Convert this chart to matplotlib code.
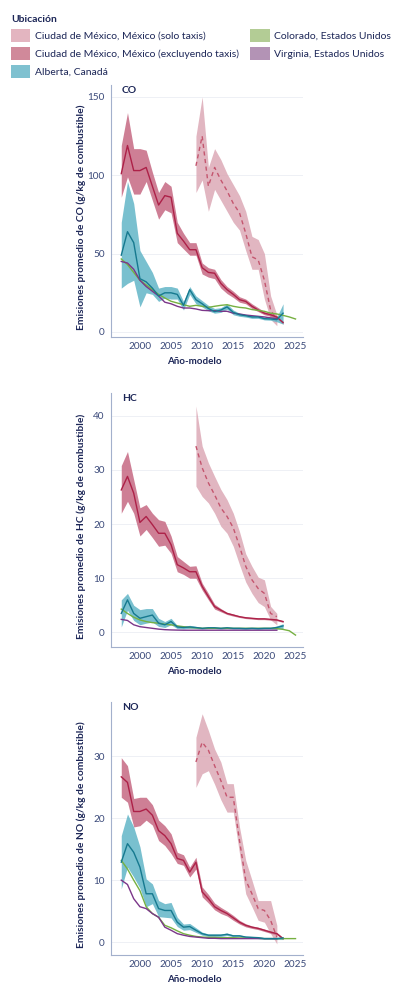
import matplotlib
matplotlib.use("Agg")
from matplotlib import pyplot as plt
from matplotlib.patches import Patch

plt.rcParams["font.family"] = ["Lato", "DejaVu Sans"]

# years
years_main = list(range(1997, 2024))     # CDMX (sin taxis), Alberta
years_taxi = list(range(2009, 2023))     # CDMX taxis
years_colorado = list(range(1997, 2026))
years_virginia = list(range(1997, 2023))

# ---- CO ----
co_cdmx = [101, 119, 103, 103, 105, 93, 81, 87, 86, 63, 58, 52.5, 52.5, 41, 38, 37.5,
           31, 27, 24, 20.6, 19.5, 16.4, 14, 12, 11, 9.5, 6]
co_cdmx_lo = [86, 99, 88, 88, 96, 84, 72, 78, 76, 57, 53, 49, 49, 37, 35, 34,
              28, 24.5, 22, 19, 18, 15, 13, 11, 10, 8.5, 5]
co_cdmx_hi = [119, 140, 117, 117, 116, 102, 89, 96, 93, 70, 63, 57, 57, 44, 41, 40,
              33.5, 29, 26, 22.5, 21, 18, 15.5, 13, 12, 10.5, 7]
co_taxi = [106, 125, 93, 105, 97, 90, 82, 76, 63, 48, 46, 33, 14, 8]
co_taxi_lo = [89, 97, 77, 91, 84, 77, 70, 65, 52, 40, 40, 21, 8, 4]
co_taxi_hi = [125, 150, 105, 117, 110, 101, 94, 87, 77, 61, 59, 50, 23, 11]
co_alberta = [49, 64, 57, 34, 32, 28, 23, 25, 25, 24, 17, 27, 20.6, 18, 15, 13,
              14, 16, 12.5, 11, 10.4, 9.6, 9.6, 8.5, 8.3, 7.9, 12]
co_alberta_lo = [28, 31, 33, 16, 25, 24, 19.5, 21.7, 21, 21, 14, 24, 18, 16, 13.5, 12,
                 12.5, 14.5, 11, 10, 9.5, 8.7, 8.7, 7.7, 7.5, 6.5, 5]
co_alberta_hi = [70, 96, 82, 52, 45, 38, 28, 29, 29, 28, 19.5, 29, 23, 20, 17, 15,
                 15.5, 18, 14, 12, 11.3, 10.5, 10.5, 9.5, 9.3, 9.5, 18]
co_colorado = [46.6, 43, 38, 33, 30, 27, 24, 21.7, 19.6, 18.5, 17.4, 16.4, 17, 16.4, 15.7,
               16.4, 17, 17.4, 16.4, 15.7, 15.3, 14.3, 13.8, 13.2, 12, 11.5, 10.6, 9.6, 8.3]
co_virginia = [45, 44, 40, 33, 29, 26, 23, 19, 18, 16.4, 15.3, 15.3, 14.7, 13.8, 13.6,
               13.6, 13.2, 13.2, 12, 11.5, 10.8, 10.4, 10, 9.6, 9, 8.5]

# ---- HC ----
hc_cdmx = [26.3, 28.8, 25.7, 20.3, 21.4, 19.9, 18.3, 18.3, 16.2, 12.5, 11.9, 11.2, 11.2,
           8.5, 6.6, 4.75, 4.1, 3.5, 3.2, 2.9, 2.7, 2.6, 2.5, 2.5, 2.4, 2.3, 2.0]
hc_cdmx_lo = [22, 24.2, 22, 17.8, 19, 17.5, 15.9, 16.1, 14.6, 11.2, 10.7, 10, 10,
              7.8, 6, 4.3, 3.8, 3.3, 3.0, 2.75, 2.55, 2.45, 2.35, 2.35, 2.25, 2.15, 1.85]
hc_cdmx_hi = [30.8, 33.4, 28.2, 23, 23.6, 22, 20.8, 20.5, 17.8, 14, 13.1, 12.2, 12.3,
              9.1, 7.2, 5.2, 4.4, 3.7, 3.4, 3.05, 2.85, 2.75, 2.65, 2.65, 2.55, 2.45, 2.15]
hc_taxi = [34.4, 30.4, 27.6, 25.4, 23, 21.4, 19.3, 15.9, 12.2, 9.7, 8.1, 7.2, 3.5, 2.9]
hc_taxi_lo = [27, 25.1, 23.9, 22, 19.6, 18.3, 15.9, 12.5, 9.3, 7.2, 5.5, 4.75, 2.3, 1.4]
hc_taxi_hi = [41.8, 34.4, 31.3, 28.8, 26.4, 24.5, 22, 18.6, 14.5, 12.2, 10.2, 9.7, 4.8, 3.5]
hc_alberta = [3.5, 6, 3.5, 2.6, 2.9, 3.2, 1.7, 1.4, 2, 1, 0.9, 1, 0.9, 0.75, 0.85, 0.85,
              0.75, 0.85, 0.75, 0.75, 0.7, 0.75, 0.7, 0.75, 0.75, 0.9, 1.2]
hc_alberta_lo = [1, 4.1, 2.2, 1.4, 1.7, 1.9, 1.1, 0.9, 1.4, 0.7, 0.65, 0.75, 0.7, 0.6, 0.7,
                 0.7, 0.6, 0.7, 0.6, 0.6, 0.55, 0.6, 0.55, 0.6, 0.6, 0.6, 0.7]
hc_alberta_hi = [6, 7.2, 5.0, 4.2, 4.4, 4.4, 2.6, 2.0, 2.6, 1.3, 1.15, 1.3, 1.1, 0.9, 1.0,
                 1.0, 0.9, 1.0, 0.9, 0.9, 0.85, 0.9, 0.85, 0.9, 0.9, 1.2, 1.6]
hc_colorado = [4.3, 3.5, 2.8, 2.3, 2.0, 1.8, 1.7, 1.5, 1.4, 1.2, 1.05, 0.9, 0.85, 0.75,
               0.75, 0.75, 0.75, 0.75, 0.75, 0.75, 0.75, 0.75, 0.75, 0.75, 0.75, 0.7,
               0.55, 0.3, -0.5]
hc_virginia = [2.4, 2.2, 1.4, 1.05, 0.9, 0.75, 0.6, 0.5, 0.45, 0.42, 0.4, 0.4, 0.4, 0.4,
               0.4, 0.4, 0.4, 0.4, 0.4, 0.4, 0.4, 0.4, 0.4, 0.4, 0.4, 0.4]

# ---- NO ----
no_cdmx = [26.7, 25.8, 21.1, 21.1, 21.5, 20.5, 18, 17.2, 15.9, 13.5, 13.2, 11.3, 12.9,
           8.1, 7.0, 5.7, 5.1, 4.6, 3.9, 3.2, 2.7, 2.4, 2.2, 1.9, 1.6, 1.35, 0.55]
no_cdmx_lo = [23.4, 22.6, 18.6, 18.8, 19.7, 18.9, 16.4, 15.6, 14.3, 12.7, 12.4, 10.5, 11.8,
              7.3, 6.3, 5.2, 4.6, 4.2, 3.5, 2.9, 2.45, 2.2, 2.0, 1.7, 1.4, 1.15, 0.4]
no_cdmx_hi = [29.8, 28.5, 23.2, 23.4, 23.4, 22.2, 19.7, 18.8, 17.5, 14.5, 14.1, 12.1, 13.7,
              8.9, 7.7, 6.3, 5.6, 5.0, 4.3, 3.5, 2.95, 2.6, 2.4, 2.1, 1.8, 1.55, 0.7]
no_taxi = [29.1, 32.3, 31, 28.5, 26.1, 23.4, 23.4, 16.4, 10, 7.8, 5.4, 5.1, 3.5, 0.8]
no_taxi_lo = [25, 27.2, 27.7, 25.5, 23, 21, 21, 14.3, 7.8, 5.7, 3.5, 3.2, 1.35, -0.3]
no_taxi_hi = [33.1, 36.9, 34.2, 31.2, 29.1, 25.6, 25.6, 18.6, 13.2, 10, 6.7, 6.7, 6.7, 2.7]
no_alberta = [12.9, 15.9, 14.5, 12.1, 7.8, 7.8, 5.4, 5.1, 5.1, 3.2, 2.4, 2.5, 1.9, 1.35,
              1.1, 1.1, 1.1, 1.25, 1.0, 1.0, 0.8, 0.75, 0.7, 0.55, 0.55, 0.55, 0.65]
no_alberta_lo = [8.6, 12.1, 10.5, 8.7, 5.7, 6.2, 4.1, 4.0, 3.9, 2.5, 1.9, 2.0, 1.55, 1.1,
                 0.9, 0.9, 0.9, 1.05, 0.85, 0.85, 0.65, 0.6, 0.55, 0.45, 0.45, 0.4, 0.4]
no_alberta_hi = [17.2, 20.7, 18.6, 15.4, 10.2, 9.4, 6.7, 6.2, 6.4, 4.0, 2.9, 3.0, 2.3, 1.6,
                 1.3, 1.3, 1.3, 1.45, 1.15, 1.15, 0.95, 0.9, 0.85, 0.7, 0.7, 0.7, 0.9]
no_colorado = [13.2, 11.8, 10, 8.3, 5.7, 4.6, 4.0, 2.7, 2.3, 1.8, 1.35, 1.1, 0.9, 0.8, 0.75,
               0.75, 0.7, 0.7, 0.7, 0.65, 0.65, 0.6, 0.6, 0.55, 0.55, 0.55, 0.55, 0.55, 0.55]
no_virginia = [10, 9.3, 7, 5.7, 5.4, 4.6, 4.0, 2.4, 1.9, 1.35, 1.1, 0.9, 0.8, 0.7, 0.6, 0.6,
               0.55, 0.55, 0.55, 0.55, 0.55, 0.55, 0.55, 0.55, 0.55, 0.55]

labels = ["Ciudad de México, México (solo taxis)",
          "Ciudad de México, México (excluyendo taxis)",
          "Alberta, Canadá",
          "Colorado, Estados Unidos",
          "Virginia, Estados Unidos"]

NAVY = "#1c2657"
TICK = "#3b4a7a"
SPINE = "#a3b0cc"

C_TAXI_BAND, C_TAXI_LINE = "#dca9b6", "#c4566f"
C_CDMX_BAND, C_CDMX_LINE = "#c9718a", "#ad2148"
C_ALB_BAND, C_ALB_LINE = "#62b5c7", "#16798f"
C_COL_LINE = "#76b041"
C_VIR_LINE = "#7b3689"
LEGEND_COLORS = ["#e3b5c0", "#d0899a", "#7fc1d0", "#b3cc95", "#b393b5"]


def draw_panel(ax, name, ylim, yticks, cdmx, taxi, alberta, colorado, virginia):
    ax.fill_between(years_taxi, taxi[1], taxi[2], color=C_TAXI_BAND, alpha=0.85, lw=0)
    ax.fill_between(years_main, cdmx[1], cdmx[2], color=C_CDMX_BAND, alpha=0.9, lw=0)
    ax.fill_between(years_main, alberta[1], alberta[2], color=C_ALB_BAND, alpha=0.85, lw=0)
    ax.plot(years_taxi, taxi[0], color=C_TAXI_LINE, lw=1.0, ls=(0, (3, 2.5)))
    ax.plot(years_main, cdmx[0], color=C_CDMX_LINE, lw=1.0)
    ax.plot(years_colorado, colorado, color=C_COL_LINE, lw=1.0)
    ax.plot(years_virginia, virginia, color=C_VIR_LINE, lw=1.0)
    ax.plot(years_main, alberta[0], color=C_ALB_LINE, lw=1.0)

    ax.set_xlim(1995.3, 2026.2)
    ax.set_ylim(*ylim)
    ax.set_xticks(range(2000, 2026, 5))
    ax.set_yticks(yticks)
    ax.grid(axis="y", color="#eef0f5", lw=0.7)
    ax.set_axisbelow(True)
    for side in ("top", "right"):
        ax.spines[side].set_visible(False)
    for side in ("left", "bottom"):
        ax.spines[side].set_color(SPINE)
        ax.spines[side].set_linewidth(0.8)
    ax.tick_params(length=0, labelsize=7.2, labelcolor=TICK)
    ax.tick_params(axis="y", pad=4.3)
    ax.tick_params(axis="x", pad=3.5)

    ax.text(0.057, 0.998, name, transform=ax.transAxes, ha="left", va="top",
            fontsize=7.5, fontweight="bold", color=NAVY)
    ax.set_ylabel("Emisiones promedio de %s (g/kg de combustible)" % name,
                  fontsize=7.4, fontweight="bold", color=NAVY)
    ax.yaxis.set_label_coords(-0.128, 0.475)
    ax.set_xlabel("Año-modelo", fontsize=7, fontweight="bold", color=NAVY)
    ax.xaxis.set_label_coords(0.436, -0.079)


fig = plt.figure(figsize=(3.96, 10.0), dpi=100)
ax_co = fig.add_axes([0.2795, 0.663, 0.4856, 0.252])
ax_hc = fig.add_axes([0.2795, 0.353, 0.4856, 0.254])
ax_no = fig.add_axes([0.2795, 0.045, 0.4856, 0.253])

draw_panel(ax_co, "CO", (-3.2, 157.6), [0, 50, 100, 150],
           (co_cdmx, co_cdmx_lo, co_cdmx_hi), (co_taxi, co_taxi_lo, co_taxi_hi),
           (co_alberta, co_alberta_lo, co_alberta_hi), co_colorado, co_virginia)
draw_panel(ax_hc, "HC", (-2.7, 44.2), [0, 10, 20, 30, 40],
           (hc_cdmx, hc_cdmx_lo, hc_cdmx_hi), (hc_taxi, hc_taxi_lo, hc_taxi_hi),
           (hc_alberta, hc_alberta_lo, hc_alberta_hi), hc_colorado, hc_virginia)
draw_panel(ax_no, "NO", (-2.1, 38.8), [0, 10, 20, 30],
           (no_cdmx, no_cdmx_lo, no_cdmx_hi), (no_taxi, no_taxi_lo, no_taxi_hi),
           (no_alberta, no_alberta_lo, no_alberta_hi), no_colorado, no_virginia)

handles = [Patch(facecolor=c, edgecolor="none") for c in LEGEND_COLORS]
leg = fig.legend(handles, labels, ncol=2, loc="upper left",
                 bbox_to_anchor=(11 / 396, 1 - 15 / 1000), frameon=False,
                 fontsize=7.5, handlelength=1.85, handleheight=1.6,
                 handletextpad=0.45, labelspacing=0.45, columnspacing=1.1,
                 borderpad=0, borderaxespad=0, title="Ubicación",
                 alignment="left")
leg.get_title().set_fontweight("bold")
leg.get_title().set_fontsize(7.5)
leg.get_title().set_color(NAVY)
for t in leg.get_texts():
    t.set_color(NAVY)

fig.savefig("out.png", dpi=100)
